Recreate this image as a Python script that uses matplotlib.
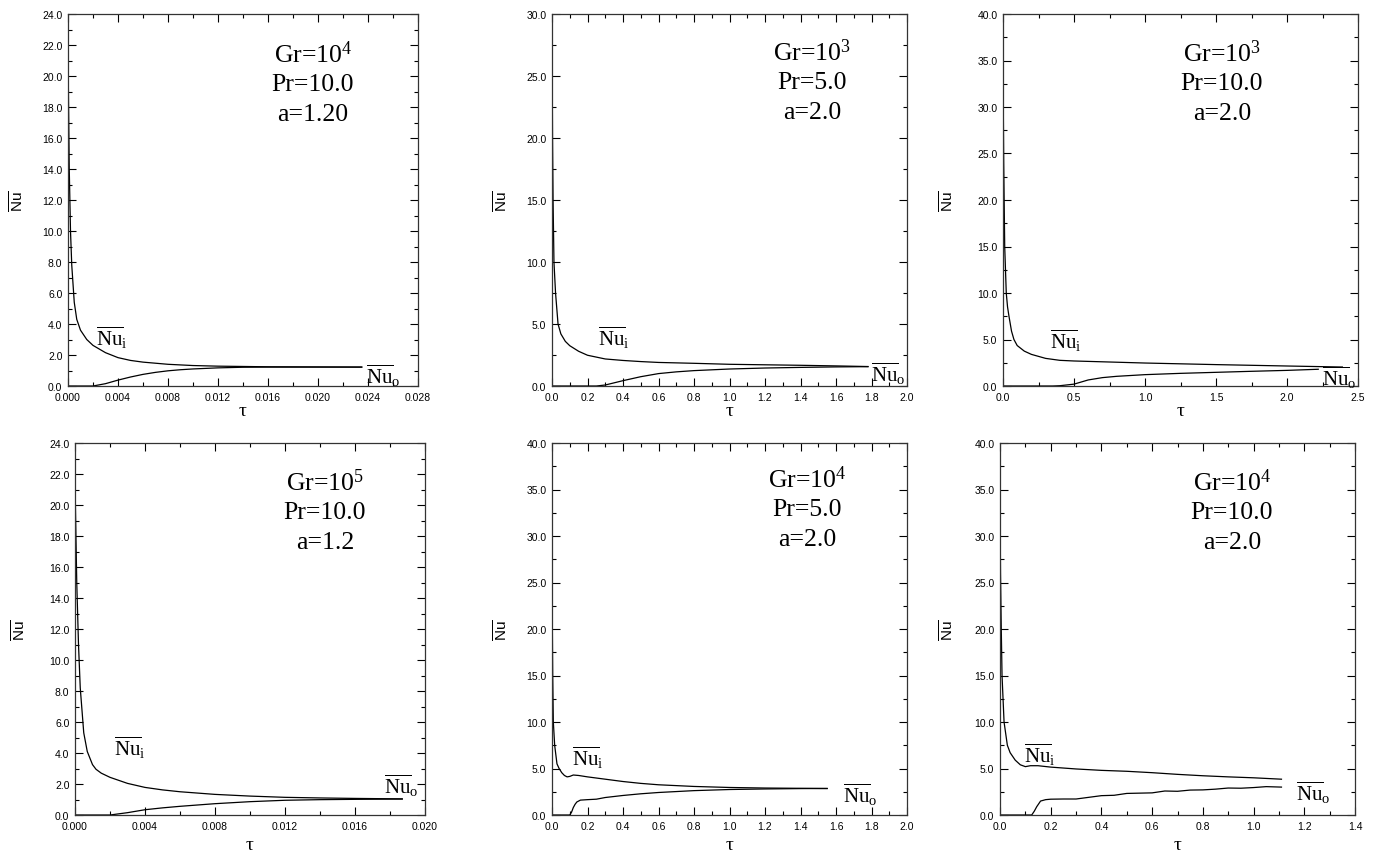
import matplotlib
matplotlib.use("Agg")
import matplotlib.pyplot as plt
from matplotlib.ticker import MultipleLocator, FormatStrFormatter

plt.rcParams['mathtext.fontset'] = 'custom'
plt.rcParams['mathtext.rm'] = 'Liberation Serif'
plt.rcParams['mathtext.it'] = 'Liberation Serif:italic'
plt.rcParams['mathtext.sf'] = 'Liberation Sans'
plt.rcParams['font.family'] = ['Liberation Sans', 'DejaVu Sans']

# ---------------- data ----------------
# Panel 1: Gr=1e4, Pr=10, a=1.20
p1_tau_i = [0, 0.0001, 0.0002, 0.0003, 0.0005, 0.0007, 0.001, 0.0015, 0.002, 0.003, 0.004, 0.005,
            0.006, 0.008, 0.010, 0.012, 0.014, 0.016, 0.020, 0.0235]
p1_nu_i = [21.5, 14.0, 10.0, 7.8, 5.4, 4.3, 3.6, 3.0, 2.62, 2.15, 1.83, 1.65,
           1.54, 1.40, 1.32, 1.28, 1.26, 1.24, 1.23, 1.22]
p1_tau_o = [0, 0.002, 0.003, 0.004, 0.005, 0.006, 0.007, 0.008, 0.009, 0.010, 0.012, 0.014,
            0.016, 0.020, 0.0235]
p1_nu_o = [0, 0, 0.15, 0.38, 0.58, 0.75, 0.88, 0.98, 1.05, 1.10, 1.17, 1.21,
           1.22, 1.22, 1.22]

# Panel 2: Gr=1e3, Pr=5, a=2.0
p2_tau_i = [0, 0.003, 0.006, 0.011, 0.02, 0.034, 0.05, 0.075, 0.1, 0.15, 0.2, 0.3, 0.4, 0.5,
            0.6, 0.8, 1.0, 1.2, 1.4, 1.6, 1.78]
p2_nu_i = [28.5, 20.0, 15.0, 10.0, 7.5, 5.0, 4.2, 3.6, 3.25, 2.8, 2.48, 2.18, 2.06, 1.97,
           1.9, 1.83, 1.75, 1.71, 1.67, 1.62, 1.57]
p2_tau_o = [0, 0.25, 0.3, 0.4, 0.5, 0.6, 0.7, 0.8, 1.0, 1.2, 1.4, 1.6, 1.78]
p2_nu_o = [0, 0, 0.08, 0.43, 0.75, 1.0, 1.14, 1.24, 1.37, 1.45, 1.5, 1.54, 1.56]

# Panel 3: Gr=1e3, Pr=10, a=2.0
p3_tau_i = [0, 0.005, 0.012, 0.023, 0.032, 0.042, 0.06, 0.077, 0.1, 0.15, 0.2, 0.3, 0.4, 0.5,
            0.75, 1.0, 1.5, 2.0, 2.39]
p3_nu_i = [34.3, 24.0, 15.0, 10.0, 8.5, 7.5, 5.9, 5.0, 4.35, 3.75, 3.4, 2.97, 2.76, 2.69,
           2.58, 2.47, 2.3, 2.15, 2.04]
p3_tau_o = [0, 0.35, 0.4, 0.5, 0.6, 0.7, 0.8, 1.0, 1.25, 1.5, 1.75, 2.0, 2.22]
p3_nu_o = [0, 0, 0.03, 0.2, 0.65, 0.9, 1.04, 1.22, 1.36, 1.47, 1.58, 1.68, 1.8]

# Panel 4: Gr=1e5, Pr=10, a=1.2
p4_tau_i = [0, 0.0001, 0.0002, 0.0003, 0.0005, 0.0007, 0.001, 0.0012, 0.0015, 0.002, 0.003,
            0.004, 0.005, 0.006, 0.008, 0.010, 0.012, 0.014, 0.016, 0.0187]
p4_nu_i = [21.5, 15.0, 11.0, 8.2, 5.3, 4.1, 3.25, 2.95, 2.7, 2.43, 2.04,
           1.78, 1.62, 1.5, 1.33, 1.22, 1.14, 1.1, 1.07, 1.04]
p4_tau_o = [0, 0.002, 0.003, 0.004, 0.005, 0.006, 0.008, 0.010, 0.012, 0.014, 0.016, 0.0187]
p4_nu_o = [0, 0, 0.15, 0.34, 0.46, 0.56, 0.73, 0.86, 0.95, 0.99, 1.01, 1.03]

# Panel 5: Gr=1e4, Pr=5, a=2.0
p5_tau_i = [0, 0.002, 0.004, 0.0075, 0.015, 0.028, 0.04, 0.055, 0.07, 0.085, 0.1, 0.12, 0.15,
            0.2, 0.3, 0.4, 0.5, 0.6, 0.8, 1.0, 1.2, 1.4, 1.55]
p5_nu_i = [28.5, 20.0, 15.0, 10.0, 7.5, 5.5, 5.0, 4.55, 4.25, 4.1, 4.15, 4.3, 4.25,
           4.1, 3.85, 3.6, 3.4, 3.25, 3.07, 2.96, 2.9, 2.87, 2.85]
p5_tau_o = [0, 0.1, 0.11, 0.12, 0.13, 0.14, 0.16, 0.2, 0.25, 0.3, 0.4, 0.5, 0.6, 0.8, 1.0,
            1.2, 1.4, 1.55]
p5_nu_o = [0, 0, 0.3, 0.8, 1.15, 1.4, 1.6, 1.65, 1.7, 1.88, 2.1, 2.28, 2.42, 2.62, 2.74,
           2.8, 2.84, 2.85]

# Panel 6: Gr=1e4, Pr=10, a=2.0
p6_tau_i = [0, 0.002, 0.005, 0.008, 0.016, 0.029, 0.04, 0.06, 0.08, 0.1, 0.12, 0.15, 0.2,
            0.3, 0.4, 0.5, 0.6, 0.7, 0.8, 0.9, 1.0, 1.11]
p6_nu_i = [34.0, 26.0, 20.0, 15.0, 10.0, 7.5, 6.7, 5.9, 5.4, 5.2, 5.3, 5.3, 5.15,
           4.95, 4.8, 4.7, 4.55, 4.37, 4.22, 4.1, 4.0, 3.85]
p6_tau_o = [0, 0.125, 0.135, 0.145, 0.16, 0.18, 0.2, 0.25, 0.3, 0.35, 0.4, 0.45, 0.5, 0.55,
            0.6, 0.65, 0.7, 0.75, 0.8, 0.85, 0.9, 0.95, 1.0, 1.05, 1.11]
p6_nu_o = [0, 0, 0.4, 0.9, 1.5, 1.65, 1.7, 1.72, 1.72, 1.9, 2.08, 2.12, 2.32, 2.35,
           2.38, 2.58, 2.55, 2.68, 2.7, 2.78, 2.9, 2.88, 2.95, 3.05, 3.0]

params = [("Gr=10$^{4}$", "Pr=10.0", "a=1.20"),
          ("Gr=10$^{3}$", "Pr=5.0", "a=2.0"),
          ("Gr=10$^{3}$", "Pr=10.0", "a=2.0"),
          ("Gr=10$^{5}$", "Pr=10.0", "a=1.2"),
          ("Gr=10$^{4}$", "Pr=5.0", "a=2.0"),
          ("Gr=10$^{4}$", "Pr=10.0", "a=2.0")]

xlims = [0.028, 2.0, 2.5, 0.020, 2.0, 1.4]
ylims = [24.0, 30.0, 40.0, 24.0, 40.0, 40.0]
x_major = [0.004, 0.2, 0.5, 0.004, 0.2, 0.2]
y_major = [2.0, 5.0, 5.0, 2.0, 5.0, 5.0]
x_fmt = ['%.3f', '%.1f', '%.1f', '%.3f', '%.1f', '%.1f']

series = [(p1_tau_i, p1_nu_i, p1_tau_o, p1_nu_o),
          (p2_tau_i, p2_nu_i, p2_tau_o, p2_nu_o),
          (p3_tau_i, p3_nu_i, p3_tau_o, p3_nu_o),
          (p4_tau_i, p4_nu_i, p4_tau_o, p4_nu_o),
          (p5_tau_i, p5_nu_i, p5_tau_o, p5_nu_o),
          (p6_tau_i, p6_nu_i, p6_tau_o, p6_nu_o)]

# ---------------- layout (pixels) ----------------
W, H = 1379, 854
boxes = [(68, 418, 15, 387), (552, 907, 15, 387), (1003, 1358, 15, 387),
         (75, 425, 444, 816), (552, 907, 444, 816), (1000, 1355, 444, 816)]
param_pos = [(313, 55), (812, 53), (1222, 54), (325, 483), (807, 480), (1232, 483)]
nui_pos = [(112, 338), (614, 338), (1066, 341), (130, 748), (588, 758), (1040, 755)]
nuo_pos = [(383, 376), (888, 374), (1339, 378), (401, 786), (860, 795), (1313, 793)]
ylab_x = [18, 502, 948, 20, 502, 948]
xlab_y = [412, 412, 412, 846, 846, 846]

fig = plt.figure(figsize=(W / 100, H / 100), dpi=100)

serif = 'Liberation Serif'

for k in range(6):
    l, r, t, b = boxes[k]
    ax = fig.add_axes([l / W, 1 - b / H, (r - l) / W, (b - t) / H])
    ti, ni, to, no = series[k]
    ax.plot(ti, ni, color='black', lw=0.9)
    ax.plot(to, no, color='black', lw=0.9)
    ax.set_xlim(0, xlims[k])
    ax.set_ylim(0, ylims[k])
    ax.xaxis.set_major_locator(MultipleLocator(x_major[k]))
    ax.xaxis.set_minor_locator(MultipleLocator(x_major[k] / 2))
    ax.yaxis.set_major_locator(MultipleLocator(y_major[k]))
    ax.yaxis.set_minor_locator(MultipleLocator(y_major[k] / 2))
    ax.xaxis.set_major_formatter(FormatStrFormatter(x_fmt[k]))
    ax.yaxis.set_major_formatter(FormatStrFormatter('%.1f'))
    ax.tick_params(which='both', direction='in', top=True, right=True,
                   width=0.8, labelsize=7.5, colors='black')
    ax.tick_params(which='major', length=6, pad=4)
    ax.tick_params(which='minor', length=3)
    for s in ax.spines.values():
        s.set_linewidth(0.9)
        s.set_color('#333333')
    w, h = r - l, b - t
    ax.set_xlabel('τ', fontfamily=serif, fontsize=14, va='center')
    ax.xaxis.set_label_coords(0.5, (b - xlab_y[k]) / h)
    ax.set_ylabel(r'$\overline{\mathsf{Nu}}$', fontsize=11, va='center')
    ax.yaxis.set_label_coords((ylab_x[k] - l) / w, 0.5)

    px, py = param_pos[k]
    for j, txt in enumerate(params[k]):
        fig.text(px / W, 1 - (py + 30 * j) / H, txt, fontfamily=serif, fontsize=18.5,
                 ha='center', va='center')
    x, y = nui_pos[k]
    fig.text(x / W, 1 - y / H, r'$\overline{\mathrm{Nu}}_{\mathrm{i}}$', fontsize=15,
             ha='center', va='center')
    x, y = nuo_pos[k]
    fig.text(x / W, 1 - y / H, r'$\overline{\mathrm{Nu}}_{\mathrm{o}}$', fontsize=15,
             ha='center', va='center')

fig.savefig('out.png', dpi=100)
